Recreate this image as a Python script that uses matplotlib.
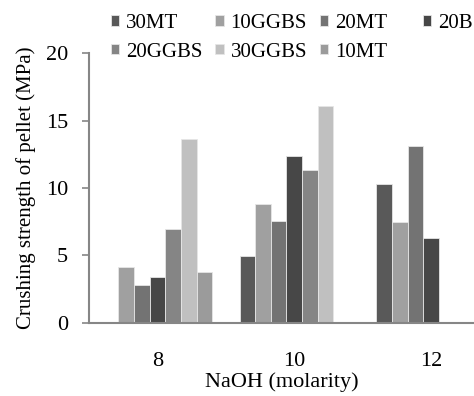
import matplotlib
matplotlib.use("Agg")
import matplotlib.pyplot as plt
import numpy as np

# NaOH molarity groups
molarity = ["8", "10", "12"]

# crushing strength (MPa) per mix, nan = no bar
s_30MT   = [np.nan, 4.95, 10.3]
s_10GGBS = [4.1, 8.8, 7.45]
s_20MT   = [2.8, 7.55, 13.1]
s_20B    = [3.4, 12.35, 6.3]
s_20GGBS = [6.95, 11.35, np.nan]
s_30GGBS = [13.6, 16.05, np.nan]
s_10MT   = [3.78, np.nan, np.nan]

series = [
	("30MT",   s_30MT,   "#595959"),
	("10GGBS", s_10GGBS, "#a0a0a0"),
	("20MT",   s_20MT,   "#737373"),
	("20B",    s_20B,    "#474747"),
	("20GGBS", s_20GGBS, "#858585"),
	("30GGBS", s_30GGBS, "#c0c0c0"),
	("10MT",   s_10MT,   "#9b9b9b"),
]

plt.rcParams["font.family"] = ["Liberation Serif", "DejaVu Serif"]
plt.rcParams["font.size"] = 16

fig = plt.figure(figsize=(4.74, 3.96), dpi=100)
ax = fig.add_axes([0.1878, 0.1856, 0.8122, 0.680])

x = np.arange(len(molarity))
n = len(series)
w = 0.8 / n
handles = {}
for i, (name, vals, col) in enumerate(series):
	b = ax.bar(x - 0.4 + w * (i + 0.5), vals, width=w, color=col,
			   edgecolor="#e6e6e6", linewidth=0.6, label=name)
	handles[name] = b

ax.set_xlim(-0.5, 2.314)
ax.set_ylim(0, 20)
ax.set_yticks([0, 5, 10, 15, 20])
ax.set_xticks(x)
ax.set_xticklabels(molarity)
ax.tick_params(axis="x", length=0, pad=21)
ax.tick_params(axis="y", length=5, width=1.2, color="#868686", pad=10, direction="out")
for s in ["top", "right"]:
	ax.spines[s].set_visible(False)
ax.spines["left"].set_color("#868686")
ax.spines["left"].set_linewidth(1.5)
ax.spines["bottom"].set_color("#868686")
ax.spines["bottom"].set_linewidth(1.5)

ax.set_xlabel("NaOH (molarity)", labelpad=1)
ax.set_ylabel("Crushing strength of pellet (MPa)", fontsize=15)
ax.yaxis.set_label_coords(-0.137, 0.5)

# legend: first three columns, then 20B on its own further right
leg_kw = dict(loc="upper left", frameon=False, borderpad=0.1, fontsize=15,
			  handlelength=0.385, handleheight=0.385, handletextpad=0.34,
			  columnspacing=0.62, labelspacing=0.47, borderaxespad=0)
order = ["30MT", "20GGBS", "10GGBS", "30GGBS", "20MT", "10MT"]
leg1 = fig.legend([handles[k] for k in order], order, ncol=3,
				  bbox_to_anchor=(0.230, 0.97), **leg_kw)
leg2 = fig.legend([handles["20B"]], ["20B"], ncol=1,
				  bbox_to_anchor=(0.888, 0.97), **leg_kw)

plt.savefig("out.png", dpi=100)
